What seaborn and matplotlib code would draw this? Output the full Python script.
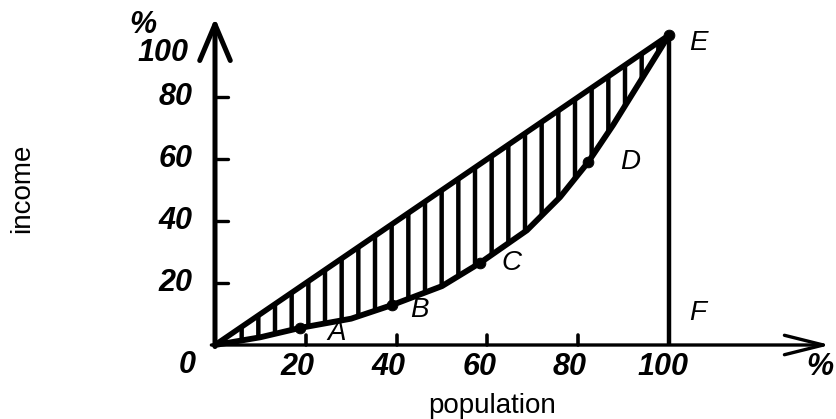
import numpy as np
import pandas as pd
import matplotlib
matplotlib.use("Agg")
import matplotlib.pyplot as plt
import seaborn as sns

# ---- data ----
population = [0, 10, 18.7, 30, 39, 50, 58.4, 68.7, 76, 82.2, 87.7, 93, 100]
income = [0, 2.5, 5.5, 8.5, 12.9, 19, 26.5, 37, 47.7, 59, 71, 83.5, 100]
equality_x = [0, 100]
equality_y = [0, 100]
point_labels = ["A", "B", "C", "D", "E"]
point_pop = [18.7, 39, 58.4, 82.2, 100]
point_inc = [5.5, 12.9, 26.5, 59, 100]
tick_values = [20, 40, 60, 80]
y_tick_labels = ["20", "40", "60", "80"]
x_tick_labels = ["20", "40", "60", "80"]

sns.set_theme(style="white")
plt.rcParams['font.family'] = ['Liberation Sans', 'DejaVu Sans']
plt.rcParams['hatch.linewidth'] = 3.2
plt.rcParams['hatch.color'] = 'black'

W, H = 836, 419
fig = plt.figure(figsize=(W / 100, H / 100), dpi=100)
# axes occupies px x 140..836, y 0..380 (from top)
ax = fig.add_axes([140 / W, (H - 380) / H, 696 / W, 380 / H])
ax.set_xlim(-16.52, 136.78)
ax.set_ylim(-11.29, 111.3)
sns.despine(ax=ax, left=True, bottom=True)
ax.set_xticks([])
ax.set_yticks([])
ax.set_facecolor('white')

lorenz = pd.DataFrame({"population": population, "income": income})
eq = pd.DataFrame({"population": equality_x, "income": equality_y})

# hatched region between equality line and Lorenz curve
ax.fill_between(lorenz["population"], lorenz["population"], lorenz["income"],
                facecolor='none', edgecolor='black', hatch='|', linewidth=0)

sns.lineplot(data=eq, x="population", y="income", ax=ax, color='black',
             lw=4.0, sort=False)
sns.lineplot(data=lorenz, x="population", y="income", ax=ax, color='black',
             lw=4.2, sort=False)
pts = pd.DataFrame({"population": point_pop, "income": point_inc})
sns.scatterplot(data=pts, x="population", y="income", ax=ax, color='black',
                s=60, edgecolor='black', zorder=5)
ax.set_xlabel("")
ax.set_ylabel("")

# axes with arrows
ax.annotate('', xy=(0, 105.5), xytext=(0, -0.5),
            arrowprops=dict(arrowstyle='->, head_length=1.3, head_width=0.55',
                            lw=3.6, color='black', mutation_scale=20,
                            shrinkA=0, shrinkB=0))
ax.annotate('', xy=(135.5, 0), xytext=(-0.8, 0),
            arrowprops=dict(arrowstyle='->, head_length=1.4, head_width=0.35',
                            lw=2.4, color='black', mutation_scale=20,
                            shrinkA=0, shrinkB=0))
# E-F vertical line
ax.plot([100, 100], [0, 100], color='black', lw=3.2, solid_capstyle='butt')

# tick marks
for v in tick_values:
    ax.plot([0, 2.8], [v, v], color='black', lw=2.4)
    ax.plot([v, v], [0, 3.2], color='black', lw=2.6)

tick_font = dict(fontsize=22, style='italic', weight='bold', color='black')
for v, lab in zip(tick_values, y_tick_labels):
    ax.text(-5.0, v, lab, ha='right', va='center', **tick_font)
ax.text(-5.8, 94.2, "100", ha='right', va='center', **tick_font)
ax.text(-15.9, 103.2, "%", ha='center', va='center', **tick_font)
ax.text(-6.2, -6.3, "0", ha='center', va='center', **tick_font)
for v, lab in zip(tick_values, x_tick_labels):
    ax.text(v - 1.8, -7.1, lab, ha='center', va='center', **tick_font)
ax.text(98.7, -7.1, "100", ha='center', va='center', **tick_font)
ax.text(133.3, -7.1, "%", ha='center', va='center', **tick_font)

# point letters
letter_font = dict(fontsize=20, style='italic', color='black')
letter_pos = {"A": (26.8, 4.0), "B": (45.1, 11.3), "C": (65.3, 26.5),
              "D": (91.4, 59.0), "E": (106.4, 97.4)}
for lab in point_labels:
    x, y = letter_pos[lab]
    ax.text(x, y, lab, ha='center', va='center', **letter_font)
ax.text(106.4, 10.3, "F", ha='center', va='center', **letter_font)

fig.text(492 / W, 1 - 406 / H, "population", fontsize=20, color='black',
         ha='center', va='center')
fig.text(22 / W, 1 - 188 / H, "income", fontsize=20, color='black',
         rotation=90, ha='center', va='center')

fig.savefig("out.png", dpi=100, facecolor='white')
